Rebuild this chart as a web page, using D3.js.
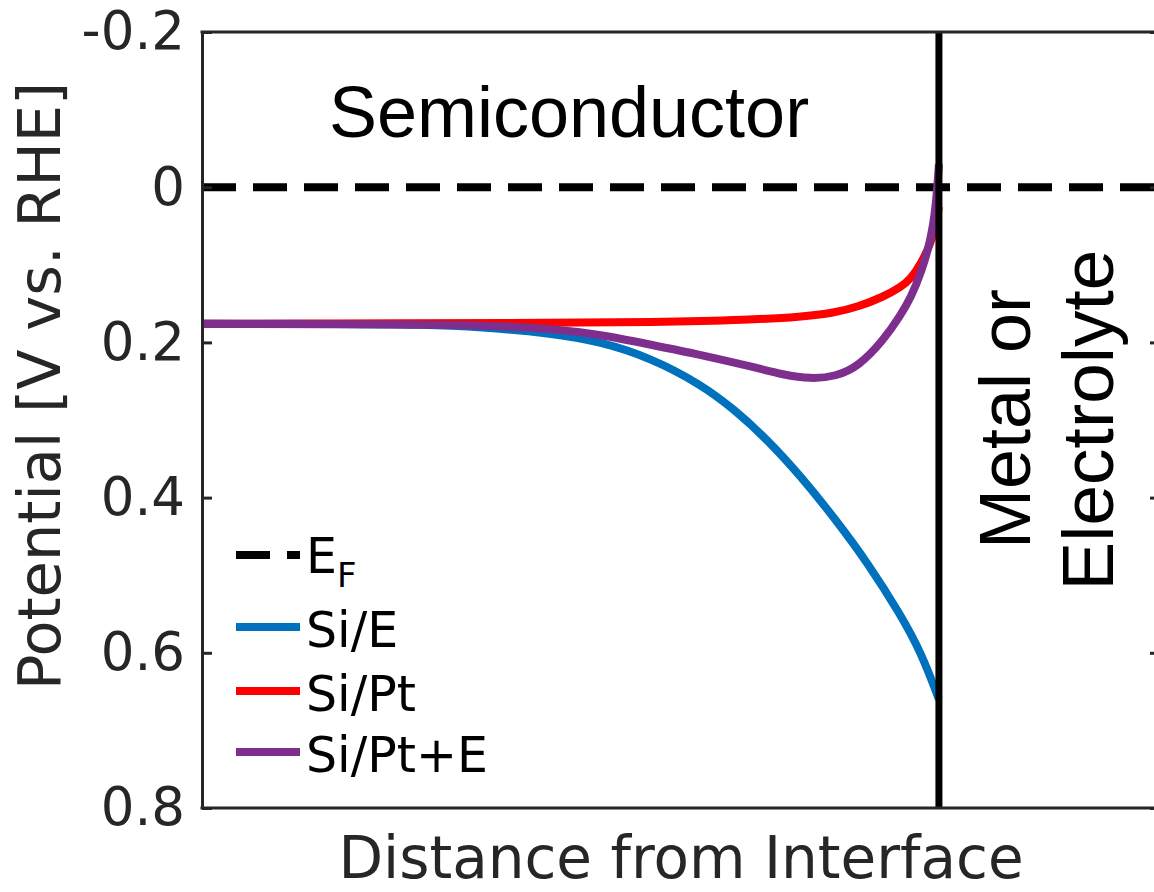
<!DOCTYPE html>
<html>
<head>
<meta charset="utf-8">
<script src="https://cdn.jsdelivr.net/npm/d3@7"></script>
<style>
  html, body { margin: 0; padding: 0; background: #fff; overflow: hidden; }
  svg { display: block; }
</style>
</head>
<body>
<svg id="chart" width="1154" height="892"></svg>
<script>
// Band bending profiles near the semiconductor interface (distance in arbitrary units, interface at 0)
const yTickValues = [-0.2, 0, 0.2, 0.4, 0.6, 0.8];
const yTickLabels = ["-0.2", "0", "0.2", "0.4", "0.6", "0.8"];
const fermiLevel = 0;

const siEDistance = [-100, -79.8, -70.3, -62.2, -52.7, -45.9, -39.1, -32.3, -27.8, -23.2, -18.7, -14.2, -9.6, -5.2, -2.4, 0];
const siEPotential = [0.176, 0.176, 0.177, 0.180, 0.188, 0.199, 0.220, 0.254, 0.286, 0.326, 0.373, 0.426, 0.485, 0.551, 0.600, 0.660];

const siPtDistance = [-100, -52.7, -39.1, -25.5, -18.7, -14.2, -10.9, -7.5, -5.2, -3.8, -2.4, -1.1, -0.4, 0];
const siPtPotential = [0.176, 0.175, 0.174, 0.171, 0.167, 0.162, 0.154, 0.141, 0.129, 0.118, 0.098, 0.072, 0.048, 0.025];

const siPtEDistance = [-100, -70.3, -62.2, -52.7, -45.9, -39.1, -32.3, -25.5, -21.0, -17.4, -14.0, -10.9, -7.5, -5.2, -3.8, -2.4, -1.1, -0.4, 0];
const siPtEPotential = [0.176, 0.177, 0.178, 0.182, 0.190, 0.203, 0.216, 0.231, 0.242, 0.247, 0.244, 0.231, 0.197, 0.165, 0.142, 0.110, 0.068, 0.025, -0.03];

const seriesNames = ["Si/E", "Si/Pt", "Si/Pt+E"];
const seriesColors = ["#0072BD", "#FF0000", "#7E2F8E"];
const regionLabels = ["Semiconductor", "Metal or", "Electrolyte"];
const xLabel = "Distance from Interface";
const yLabel = "Potential [V vs. RHE]";

const series = [
  { name: seriesNames[0], color: seriesColors[0], x: siEDistance, y: siEPotential },
  { name: seriesNames[1], color: seriesColors[1], x: siPtDistance, y: siPtPotential },
  { name: seriesNames[2], color: seriesColors[2], x: siPtEDistance, y: siPtEPotential }
];

const svg = d3.select("#chart");
const plotLeft = 202, plotTop = 32, plotRight = 1160, plotBottom = 808;
const axisColor = "#262626";

const x = d3.scaleLinear().domain([-100, 30]).range([plotLeft, plotRight]);
const y = d3.scaleLinear().domain([-0.2, 0.8]).range([plotTop, plotBottom]);

const labelFont = "DejaVu Sans, Verdana, sans-serif";
const textFont = "Liberation Sans, Arial, Helvetica, sans-serif";

// Fermi level
svg.append("line")
  .attr("x1", plotLeft).attr("x2", plotRight)
  .attr("y1", y(fermiLevel)).attr("y2", y(fermiLevel))
  .attr("stroke", "#000").attr("stroke-width", 8)
  .attr("stroke-dasharray", "34,17");

// Potential curves
const line = d3.line()
  .x(d => x(d[0]))
  .y(d => y(d[1]))
  .curve(d3.curveBasis);

series.forEach(s => {
  svg.append("path")
    .datum(s.x.map((v, i) => [v, s.y[i]]))
    .attr("d", line)
    .attr("fill", "none")
    .attr("stroke", s.color)
    .attr("stroke-width", 8)
    .attr("stroke-linejoin", "round");
});

// Interface
svg.append("line")
  .attr("x1", x(0)).attr("x2", x(0))
  .attr("y1", plotTop).attr("y2", plotBottom)
  .attr("stroke", "#000").attr("stroke-width", 7);

// Axes
const leftAxis = d3.axisLeft(y)
  .tickValues(yTickValues)
  .tickFormat((d, i) => yTickLabels[i])
  .tickSizeInner(-10).tickSizeOuter(0).tickPadding(17);
const gL = svg.append("g").attr("transform", `translate(${plotLeft},0)`).call(leftAxis);
gL.select(".domain").attr("stroke", axisColor).attr("stroke-width", 3);
gL.selectAll(".tick line").attr("stroke", axisColor).attr("stroke-width", 3);
gL.selectAll(".tick text")
  .attr("fill", axisColor)
  .style("font-family", labelFont)
  .style("font-size", "53px");

const rightAxis = d3.axisRight(y)
  .tickValues(yTickValues)
  .tickFormat("")
  .tickSizeInner(-10).tickSizeOuter(0);
const gR = svg.append("g").attr("transform", `translate(${plotRight},0)`).call(rightAxis);
gR.select(".domain").attr("stroke", axisColor).attr("stroke-width", 3);
gR.selectAll(".tick line").attr("stroke", axisColor).attr("stroke-width", 3);

[plotTop, plotBottom].forEach(yy => {
  svg.append("line")
    .attr("x1", plotLeft - 1.5).attr("x2", plotRight + 1.5)
    .attr("y1", yy).attr("y2", yy)
    .attr("stroke", axisColor).attr("stroke-width", 3);
});

// Axis titles
svg.append("text")
  .attr("x", 681).attr("y", 878)
  .attr("text-anchor", "middle")
  .attr("fill", axisColor)
  .style("font-family", labelFont)
  .style("font-size", "58px")
  .text(xLabel);

svg.append("text")
  .attr("transform", "translate(60,386) rotate(-90)")
  .attr("text-anchor", "middle")
  .attr("fill", axisColor)
  .style("font-family", labelFont)
  .style("font-size", "59px")
  .text(yLabel);

// Region annotations
svg.append("text")
  .attr("x", 569).attr("y", 137)
  .attr("text-anchor", "middle")
  .attr("fill", "#000")
  .style("font-family", textFont)
  .style("font-size", "72px")
  .text(regionLabels[0]);

svg.append("text")
  .attr("transform", "translate(1030,419) rotate(-90)")
  .attr("text-anchor", "middle")
  .attr("fill", "#000")
  .style("font-family", textFont)
  .style("font-size", "72px")
  .text(regionLabels[1]);

svg.append("text")
  .attr("transform", "translate(1113,420) rotate(-90)")
  .attr("text-anchor", "middle")
  .attr("fill", "#000")
  .style("font-family", textFont)
  .style("font-size", "73px")
  .text(regionLabels[2]);

// Legend
const legend = svg.append("g");
const lx0 = 236, lx1 = 300, tx = 306;
const legendFont = "49px";

legend.append("line")
  .attr("x1", lx0).attr("x2", lx1)
  .attr("y1", 555).attr("y2", 555)
  .attr("stroke", "#000").attr("stroke-width", 8)
  .attr("stroke-dasharray", "34,17");
const ef = legend.append("text")
  .attr("x", tx).attr("y", 573)
  .attr("fill", "#000")
  .style("font-family", labelFont)
  .style("font-size", legendFont);
ef.append("tspan").text("E");
ef.append("tspan").attr("dy", 14).style("font-size", "34px").text("F");

const rowY = [627, 691, 752];
series.forEach((s, i) => {
  legend.append("line")
    .attr("x1", lx0).attr("x2", lx1)
    .attr("y1", rowY[i]).attr("y2", rowY[i])
    .attr("stroke", s.color).attr("stroke-width", 8);
  legend.append("text")
    .attr("x", tx).attr("y", rowY[i] + 20)
    .attr("fill", "#000")
    .style("font-family", labelFont)
    .style("font-size", legendFont)
    .text(s.name);
});
</script>
</body>
</html>
